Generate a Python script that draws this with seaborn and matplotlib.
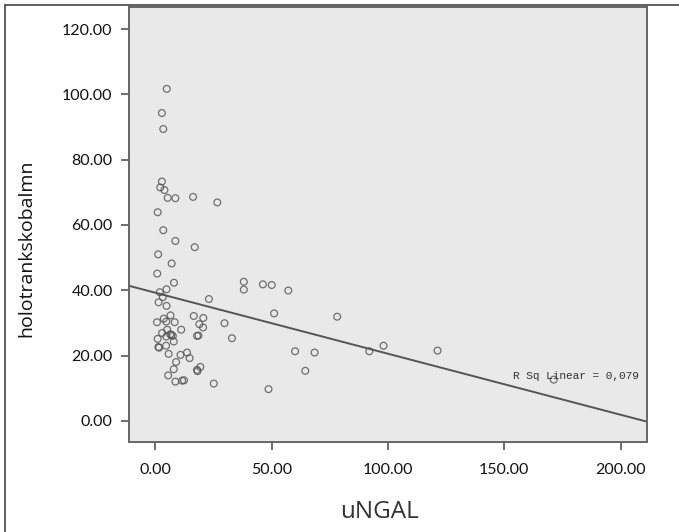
import numpy as np
import pandas as pd
import matplotlib
matplotlib.use("Agg")
import matplotlib.pyplot as plt
import seaborn as sns
from matplotlib.lines import Line2D

# values (uNGAL vs holotranskobalamin)
ungal = [5.0, 2.9, 3.5, 2.9, 2.2, 4.0, 5.4, 8.7, 16.3, 26.7,
         1.1, 3.5, 8.7, 17.0, 1.3, 7.1, 0.9, 8.1, 38.1, 38.1,
         46.3, 50.1, 57.2, 2.0, 4.9, 3.3, 1.5, 4.9, 23.1, 51.1,
         78.2, 16.6, 20.7, 29.8, 33.0, 60.1, 68.5, 92.0, 98.1, 121.3,
         64.5, 48.7, 25.2, 171.2, 6.6, 3.7, 4.8, 0.8, 8.4, 19.0,
         20.6, 11.2, 3.0, 5.2, 7.0, 7.6, 1.1, 4.8, 8.0, 18.0,
         18.6, 1.4, 1.7, 4.7, 5.8, 10.9, 13.7, 14.8, 9.0, 8.0,
         18.0, 19.4, 18.2, 5.6, 8.7, 11.6, 12.4, 6.5]
holo = [101.7, 94.3, 89.4, 73.3, 71.5, 70.7, 68.3, 68.2, 68.6, 66.9,
        63.9, 58.4, 55.1, 53.2, 51.0, 48.2, 45.1, 42.3, 42.6, 40.2,
        41.8, 41.6, 39.9, 39.4, 40.3, 37.9, 36.3, 35.2, 37.3, 32.9,
        31.9, 32.1, 31.5, 29.9, 25.3, 21.3, 20.9, 21.3, 23.0, 21.5,
        15.3, 9.7, 11.4, 12.6, 32.3, 31.3, 30.4, 30.2, 30.2, 29.6,
        28.6, 27.9, 26.9, 27.9, 26.3, 26.0, 25.1, 25.8, 24.3, 26.0,
        26.1, 22.6, 22.4, 23.0, 20.5, 20.2, 20.9, 19.2, 18.0, 15.8,
        15.6, 16.5, 15.2, 13.9, 12.0, 12.3, 12.4, 26.5]

x_ticks = [0, 50, 100, 150, 200]
y_ticks = [0, 20, 40, 60, 80, 100, 120]
r2_label = "R Sq Linear = 0,079"

df = pd.DataFrame({"uNGAL": ungal, "holotrankskobalmn": holo})

sns.set_style("ticks")
plt.rcParams["font.family"] = ["Lato", "DejaVu Sans"]

fig = plt.figure(figsize=(6.79, 5.32), dpi=100)
ax = fig.add_axes([0.1904, 0.1692, 0.7629, 0.8171])
ax.set_facecolor("#e9e9e9")
# limits first so the fitted line spans the whole frame
ax.set_xlim(-11.1, 211.4)
ax.set_ylim(-6.5, 126.7)

sns.regplot(data=df, x="uNGAL", y="holotrankskobalmn", ax=ax, ci=None,
            truncate=False,
            scatter_kws=dict(s=24, facecolors="none", edgecolors="#505050",
                             linewidths=0.9),
            line_kws=dict(color="#555555", lw=1.4))

ax.set_xlim(-11.1, 211.4)
ax.set_ylim(-6.5, 126.7)
ax.set_xticks(x_ticks)
ax.set_yticks(y_ticks)
ax.set_xticklabels([f"{t:.2f}" for t in x_ticks])
ax.set_yticklabels([f"{t:.2f}" for t in y_ticks])
ax.tick_params(labelsize=11.5, colors="#111111", length=6, width=1.2,
               direction="out", pad=6)
ax.tick_params(axis="x", pad=9)
ax.tick_params(axis="both", color="#555555")

for s in ax.spines.values():
    s.set_visible(True)
    s.set_color("#666666")
    s.set_linewidth(1.4)

ax.set_xlabel("uNGAL", fontsize=17.5, color="#333333", family=["Open Sans", "DejaVu Sans"])
ax.set_ylabel("holotrankskobalmn", fontsize=14, color="#111111",
              family=["Open Sans", "DejaVu Sans"])
ax.xaxis.set_label_coords(0.483, -0.133)
ax.yaxis.set_label_coords(-0.182, 0.445)

ax.text(153.9, 13.8, r2_label, fontsize=8, family=["Liberation Mono", "DejaVu Sans Mono"],
        color="#333333", va="center", ha="left")

# outer frame (left and top edges only, the rest is cropped in the reference)
fig.add_artist(Line2D([5 / 679, 5 / 679], [0, 1 - 5 / 532], color="#444444", lw=1.2))
fig.add_artist(Line2D([5 / 679, 1], [1 - 5 / 532, 1 - 5 / 532], color="#444444", lw=1.2))

fig.savefig("out.png", dpi=100)
